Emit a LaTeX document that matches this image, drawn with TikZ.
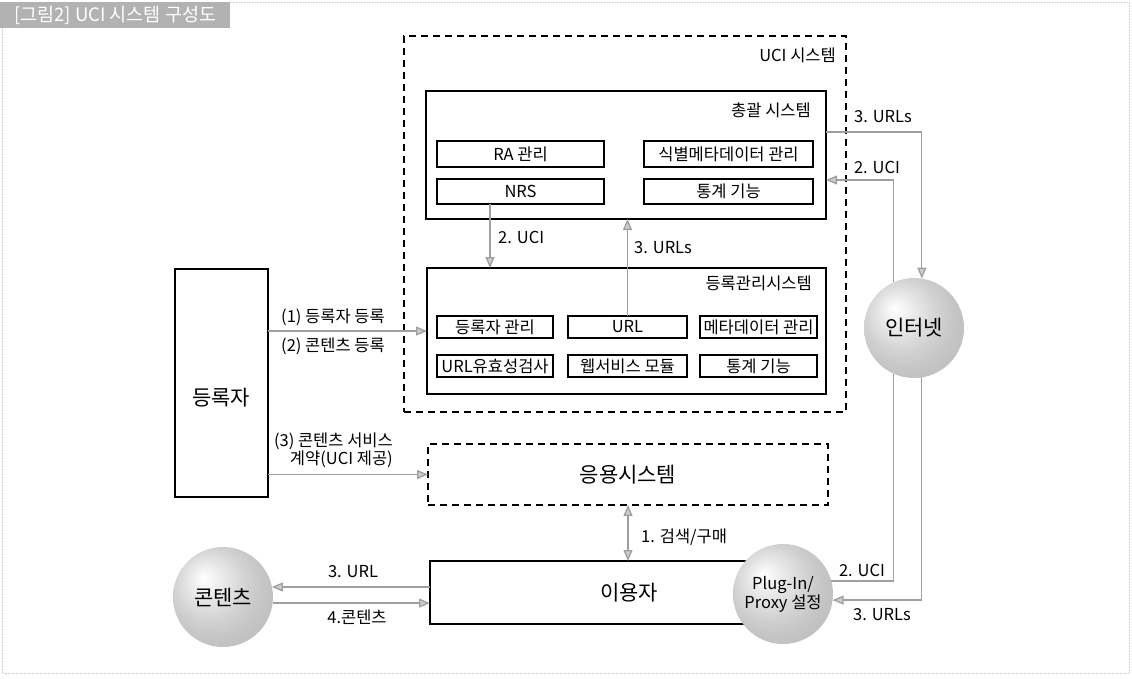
\documentclass[tikz,border=0pt]{standalone}
\usepackage{fontspec}
\setmainfont{Noto Sans CJK KR}
\usetikzlibrary{arrows.meta,shadings}
\pgfdeclareradialshading{softball}{\pgfpoint{-10bp}{10bp}}{%
  color(0bp)=(white); color(9bp)=(gray!18); color(18bp)=(gray!35);
  color(25bp)=(gray!45); color(50bp)=(gray!65)}
\begin{document}
\begin{tikzpicture}[x=1pt,y=-1pt,
  box/.style={draw=black, line width=1.3pt, rectangle, inner sep=0pt, outer sep=0pt, anchor=north west},
  dbox/.style={box, line width=1.5pt, dash pattern=on 7pt off 5pt},
  sub/.style={box, line width=1.2pt},
  big/.style={font=\fontsize{21}{23}\selectfont},
  lbl/.style={font=\fontsize{16.5}{18}\selectfont, inner sep=1pt},
  conn/.style={draw=gray!75, line width=1.3pt},
  arr/.style={conn, -{Triangle[length=11pt,width=9pt,fill=gray!40]}},
  darr/.style={conn, {Triangle[length=11pt,width=9pt,fill=gray!40]}-{Triangle[length=11pt,width=9pt,fill=gray!40]}},
  sphere/.style={circle, minimum size=100pt, inner sep=0pt, outer sep=0pt, shading=softball}
]
\useasboundingbox (0,0) rectangle (1132,678);
% outer frame and title
\draw[gray!40, line width=0.6pt, densely dotted] (2,2) rectangle (1129,673);
\node[anchor=north west, fill=gray!60, minimum width=230pt, minimum height=26pt, inner sep=0pt, text=white,
  font=\fontsize{18.5}{20}\selectfont] (title) at (0,2) {[그림2] UCI 시스템 구성도};

% UCI system
\node[dbox, minimum width=442pt, minimum height=376pt] (uci) at (404,36) {};
\node[lbl, anchor=east] (ucilbl) at (837,55) {UCI 시스템};

% 총괄 시스템
\node[box, minimum width=400pt, minimum height=128pt] (chong) at (426,91) {};
\node[lbl, anchor=east] (chonglbl) at (812,110) {총괄 시스템};
\node[sub, minimum width=167pt, minimum height=26pt] (ra) at (437,141) {};
\node[lbl] at (ra.center) {RA 관리};
\node[sub, minimum width=169pt, minimum height=26pt] (sik) at (644,141) {};
\node[lbl] at (sik.center) {식별메타데이터 관리};
\node[sub, minimum width=167pt, minimum height=25pt] (nrs) at (437,179) {};
\node[lbl] at (nrs.center) {NRS};
\node[sub, minimum width=169pt, minimum height=25pt] (stat1) at (644,179) {};
\node[lbl] at (stat1.center) {통계 기능};

% 등록관리시스템
\node[box, minimum width=399pt, minimum height=126pt] (reg) at (427,268) {};
\node[lbl, anchor=east] (reglbl) at (813,283) {등록관리시스템};
\node[sub, minimum width=116pt, minimum height=22pt] (r11) at (437,316) {};
\node[lbl] at (r11.center) {등록자 관리};
\node[sub, minimum width=119pt, minimum height=22pt] (r12) at (568,316) {};
\node[lbl] at (r12.center) {URL};
\node[sub, minimum width=117pt, minimum height=22pt] (r13) at (700,316) {};
\node[lbl] at (r13.center) {메타데이터 관리};
\node[sub, minimum width=116pt, minimum height=22pt] (r21) at (437,355) {};
\node[lbl] at (r21.center) {URL유효성검사};
\node[sub, minimum width=119pt, minimum height=22pt] (r22) at (568,355) {};
\node[lbl] at (r22.center) {웹서비스 모듈};
\node[sub, minimum width=117pt, minimum height=22pt] (r23) at (700,355) {};
\node[lbl] at (r23.center) {통계 기능};

% internal arrows
\coordinate (nrsout) at (490,204);
\draw[arr] (nrsout) -- (nrsout |- reg.north);
\node[lbl, anchor=west] at (497,237) {2. UCI};
\draw[arr] (r12.north) -- (r12.north |- chong.south);
\node[lbl, anchor=west] at (633,248) {3. URLs};

% 등록자
\node[box, minimum width=93pt, minimum height=228pt] (dr) at (175,269) {};
\node[big] (drlbl) at (221,398) {등록자};
\draw[arr] (dr.east |- reg.west) -- (reg.west);
\node[lbl] at (333,317) {(1) 등록자 등록};
\node[lbl] at (333,346) {(2) 콘텐츠 등록};

% 응용시스템
\node[dbox, minimum width=400pt, minimum height=61pt, big] (app) at (428,444) {응용시스템};
\draw[arr] (dr.east |- app.west) -- (app.west);
\node[lbl, anchor=east, align=right, font=\fontsize{16.5}{15.5}\selectfont] at (394,450) {(3) 콘텐츠 서비스\\계약(UCI 제공)};

% 이용자
\node[box, minimum width=330pt, minimum height=63pt] (user) at (430,561) {};
\node[big] (userlbl) at (629,593) {이용자};
\draw[darr] (app.south) -- (app.south |- user.north);
\node[lbl, anchor=west] at (640,537) {1. 검색/구매};

% spheres
\node[sphere, big] (cont) at (223,597) {콘텐츠};
\node[sphere, align=center, font=\fontsize{16.5}{14}\selectfont] (plug) at (783,594) {Plug-In/\\Proxy 설정};
\node[sphere, big] (inet) at (914,328) {인터넷};

% content arrows
\draw[arr] ([yshift=5.5pt]user.west) -- ([yshift=5.5pt]user.west -| cont.12);
\draw[arr] (cont.-7) -- (cont.-7 -| user.west);
\node[lbl] at (353,572) {3. URL};
\node[lbl] at (357,617) {4.콘텐츠};

% right side arrows
\draw[arr] ([yshift=-41pt]chong.north east) -| (inet.81);
\node[lbl] at (883,117) {3. URLs};
\draw[arr] (inet.114) |- ([yshift=-89pt]chong.north east);
\node[lbl] at (877,167) {2. UCI};
\draw[conn] (plug.15) -| (inet.-114);
\node[lbl] at (862,570) {2. UCI};
\draw[arr] (inet.-81) |- (plug.-7);
\node[lbl] at (882,615) {3. URLs};
\end{tikzpicture}
\end{document}
